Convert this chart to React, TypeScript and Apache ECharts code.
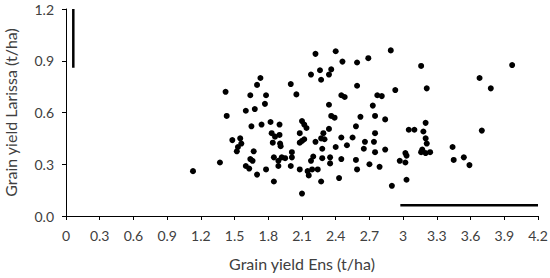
import React, { useEffect, useRef } from "react";
import * as echarts from "echarts";

// Grain yield Ens (t/ha), Grain yield Larissa (t/ha)
const points: [number, number][] = [
  [1.13, 0.26], [1.37, 0.31], [1.42, 0.72], [1.43, 0.58], [1.48, 0.44],
  [1.55, 0.45], [1.56, 0.42], [1.53, 0.40], [1.52, 0.375], [1.60, 0.61],
  [1.64, 0.70], [1.68, 0.62], [1.65, 0.52], [1.70, 0.76], [1.73, 0.80],
  [1.74, 0.53], [1.77, 0.65], [1.78, 0.70], [1.82, 0.545], [1.90, 0.53],
  [1.67, 0.375], [1.64, 0.33], [1.66, 0.32], [1.60, 0.29], [1.63, 0.275],
  [1.70, 0.24], [1.78, 0.27], [1.85, 0.20], [1.83, 0.48], [1.86, 0.46],
  [1.90, 0.47], [1.84, 0.425], [1.905, 0.42], [1.91, 0.405], [1.85, 0.34],
  [1.89, 0.32], [1.92, 0.34], [1.95, 0.335], [1.89, 0.29], [2.00, 0.29],
  [2.01, 0.37], [2.01, 0.34], [2.00, 0.765], [2.05, 0.705], [2.10, 0.55],
  [2.12, 0.53], [2.14, 0.51], [2.08, 0.48], [2.12, 0.445], [2.10, 0.435],
  [2.08, 0.425], [2.08, 0.27], [2.15, 0.26], [2.16, 0.235], [2.10, 0.13],
  [2.18, 0.32], [2.20, 0.345], [2.19, 0.27], [2.24, 0.27], [2.27, 0.20],
  [2.22, 0.43], [2.27, 0.45], [2.29, 0.48], [2.30, 0.445], [2.28, 0.39],
  [2.28, 0.335], [2.35, 0.34], [2.35, 0.305], [2.34, 0.505], [2.40, 0.40],
  [2.45, 0.33], [2.43, 0.22], [2.45, 0.455], [2.50, 0.41], [2.55, 0.455],
  [2.58, 0.52], [2.58, 0.325], [2.59, 0.27], [2.65, 0.39], [2.66, 0.43],
  [2.70, 0.30], [2.22, 0.94], [2.40, 0.955], [2.46, 0.895], [2.59, 0.89],
  [2.69, 0.915], [2.18, 0.82], [2.26, 0.845], [2.36, 0.85], [2.34, 0.82],
  [2.27, 0.79], [2.59, 0.755], [2.45, 0.70], [2.48, 0.69], [2.34, 0.645],
  [2.36, 0.58], [2.39, 0.57], [2.62, 0.575], [2.89, 0.96], [3.16, 0.87],
  [2.93, 0.73], [3.21, 0.74], [2.77, 0.70], [2.81, 0.695], [2.73, 0.64],
  [2.75, 0.58], [2.84, 0.56], [3.20, 0.54], [3.05, 0.50], [3.10, 0.50],
  [3.18, 0.49], [2.75, 0.48], [3.20, 0.45], [2.74, 0.43], [3.21, 0.42],
  [2.75, 0.37], [2.84, 0.385], [3.17, 0.385], [3.16, 0.37], [3.20, 0.365],
  [3.24, 0.37], [3.02, 0.365], [3.03, 0.35], [2.97, 0.32], [3.02, 0.31],
  [2.79, 0.285], [3.03, 0.21], [2.90, 0.175], [3.97, 0.875], [3.68, 0.80],
  [3.78, 0.74], [3.70, 0.495], [3.44, 0.40], [3.45, 0.325], [3.54, 0.34],
  [3.59, 0.295],
];

// LSD bars: vertical (for Larissa) and horizontal (for Ens)
const lsdVertical: [number, number][] = [[0.065, 0.86], [0.065, 1.2]];
const lsdHorizontal: [number, number][] = [[2.975, 0.063], [4.2, 0.063]];

const xTicks = { min: 0, max: 4.2, interval: 0.3 };
const yTicks = { min: 0, max: 1.2, interval: 0.3 };

const xTitle = "Grain yield Ens (t/ha)";
const yTitle = "Grain yield Larissa (t/ha)";

const FONT = "Lato, 'Open Sans', sans-serif";
const TEXT = "#404040";

export default function App() {
  const ref = useRef<HTMLDivElement>(null);
  useEffect(() => {
    if (!ref.current) return;
    document.body.style.margin = "0";
    const chart = echarts.init(ref.current, null, { renderer: "svg" });
    chart.setOption({
      animation: false,
      backgroundColor: "#fff",
      textStyle: { fontFamily: FONT },
      grid: {
        left: 66,
        right: 12,
        top: 9,
        bottom: 62,
        containLabel: false,
        outerBoundsMode: "none",
      },
      xAxis: {
        type: "value",
        min: xTicks.min,
        max: xTicks.max,
        interval: xTicks.interval,
        name: xTitle,
        nameLocation: "middle",
        nameGap: 39,
        nameTextStyle: { fontSize: 16, color: TEXT, fontFamily: FONT },
        axisLine: { show: true, lineStyle: { color: "#000", width: 1 } },
        axisTick: { show: true, length: 4, lineStyle: { color: "#000" } },
        splitLine: { show: false },
        axisLabel: {
          fontSize: 14,
          color: TEXT,
          fontFamily: FONT,
          margin: 12,
          formatter: (v: number) => String(parseFloat(v.toFixed(1))),
        },
      },
      yAxis: {
        type: "value",
        min: yTicks.min,
        max: yTicks.max,
        interval: yTicks.interval,
        name: yTitle,
        nameLocation: "middle",
        nameRotate: 90,
        nameGap: 48,
        nameTextStyle: { fontSize: 16, color: TEXT, fontFamily: FONT },
        axisLine: { show: true, lineStyle: { color: "#000", width: 1 } },
        axisTick: { show: true, length: 4, lineStyle: { color: "#000" } },
        splitLine: { show: false },
        axisLabel: {
          fontSize: 14,
          color: TEXT,
          fontFamily: FONT,
          margin: 12,
          formatter: (v: number) => v.toFixed(1),
        },
      },
      series: [
        {
          type: "scatter",
          data: points,
          symbol: "circle",
          symbolSize: 6,
          itemStyle: { color: "#000", opacity: 1 },
        },
        {
          type: "line",
          data: lsdVertical,
          symbol: "none",
          lineStyle: { color: "#000", width: 2.5 },
        },
        {
          type: "line",
          data: lsdHorizontal,
          symbol: "none",
          lineStyle: { color: "#000", width: 2.5 },
        },
      ],
    });
    return () => chart.dispose();
  }, []);
  return (
    <div
      ref={ref}
      style={{ width: 550, height: 278, position: "absolute", left: 0, top: 0 }}
    />
  );
}
